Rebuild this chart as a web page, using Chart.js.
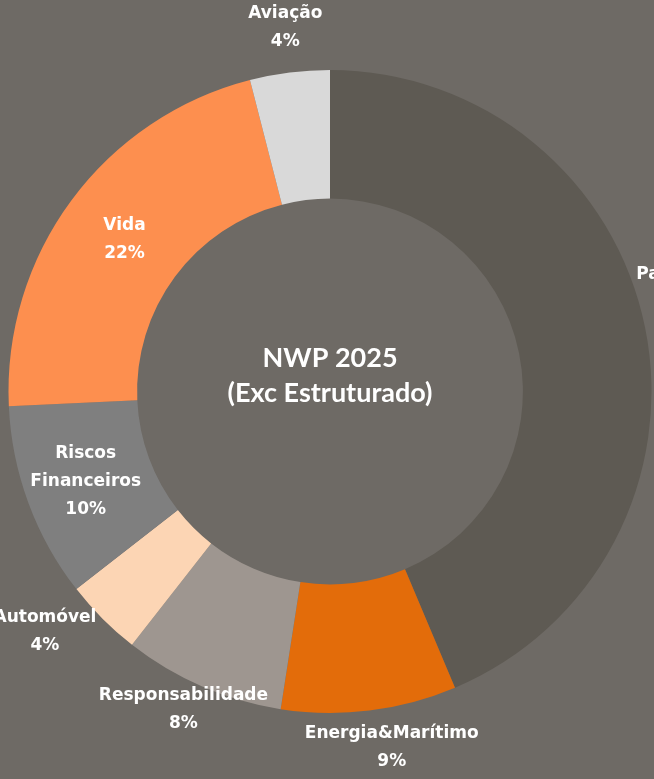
<!DOCTYPE html>
<html>
<head>
<meta charset="utf-8">
<script src="https://cdn.jsdelivr.net/npm/chart.js@4"></script>
<style>
  html, body { margin: 0; padding: 0; background: #6e6a65; overflow: hidden; }
  #wrap { width: 654px; height: 779px; position: relative; }
</style>
</head>
<body>
<div id="wrap"><canvas id="chartNwp" width="654" height="779"></canvas></div>
<script>
// data (share of NWP, %)
const categorias = ['Património', 'Energia&Marítimo', 'Responsabilidade', 'Automóvel', 'Riscos Financeiros', 'Vida', 'Aviação']
const valores = [43.6, 8.8, 8.1, 3.9, 9.8, 21.7, 4.0]
const etiquetas = ['43%', '9%', '8%', '4%', '10%', '22%', '4%']
const linhasNome = [['Património'], ['Energia&Marítimo'], ['Responsabilidade'], ['Automóvel'], ['Riscos', 'Financeiros'], ['Vida'], ['Aviação']]
const cores = ['#5e5a53', '#e36c0a', '#9e9690', '#fcd5b4', '#7f7f7f', '#fd8f4f', '#d9d9d9']

// label placement: distance from centre (as fraction of outer radius) and angle nudge in degrees
const posEtiqueta = [
  { r: 1.16, da: -4.5 },
  { r: 1.125, da: -2.8 },
  { r: 1.09, da: 1.3 },
  { r: 1.16, da: 4.8 },
  { r: 0.81, da: 0 },
  { r: 0.795, da: 0 },
  { r: 1.14, da: 0.2 }
]

const labelsPlugin = {
  id: 'labelsPlugin',
  afterDatasetsDraw(chart) {
    const ctx = chart.ctx
    const arcs = chart.getDatasetMeta(0).data
    ctx.save()
    ctx.fillStyle = '#ffffff'
    ctx.textAlign = 'center'
    ctx.textBaseline = 'middle'
    ctx.font = 'bold 17px "DejaVu Sans"'
    arcs.forEach((arc, i) => {
      const p = arc.getProps(['x', 'y', 'startAngle', 'endAngle', 'outerRadius'], true)
      const ang = (p.startAngle + p.endAngle) / 2 + posEtiqueta[i].da * Math.PI / 180
      const r = p.outerRadius * posEtiqueta[i].r
      const cx = p.x + Math.cos(ang) * r
      const cy = p.y + Math.sin(ang) * r
      const linhas = linhasNome[i].concat([etiquetas[i]])
      const lh = 28
      const y0 = cy - (linhas.length - 1) * lh / 2
      linhas.forEach((t, k) => ctx.fillText(t, cx, y0 + k * lh))
    })
    // centre title
    const a = arcs[0]
    ctx.font = 'bold 27px Lato'
    ctx.fillText('NWP 2025', a.x, a.y - 33)
    ctx.fillText('(Exc Estruturado)', a.x, a.y + 2)
    ctx.restore()
  }
}

const graphic = document.getElementById('chartNwp')
let graficoDonut = new Chart(graphic, {
  type: 'doughnut',
  data: {
    labels: categorias,
    datasets: [{
      data: valores,
      backgroundColor: cores,
      borderWidth: 0
    }]
  },
  options: {
    responsive: false,
    animation: false,
    cutout: '60%',
    layout: {
      padding: { left: 8, right: 2, top: 70, bottom: 66 }
    },
    plugins: {
      legend: { display: false },
      tooltip: { enabled: false }
    }
  },
  plugins: [labelsPlugin]
})
</script>
</body>
</html>
